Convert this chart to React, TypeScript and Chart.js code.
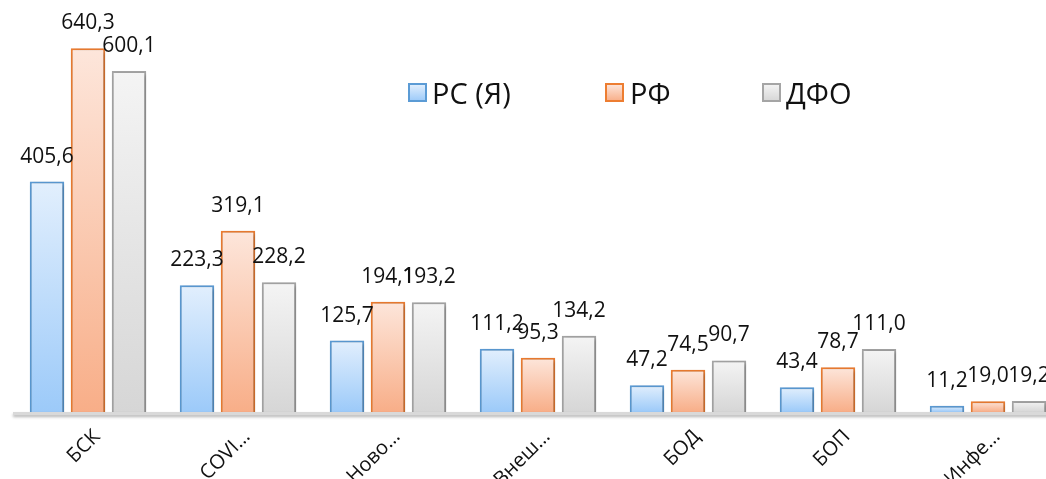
import React, { useEffect, useRef } from "react";
import { Chart, registerables } from "chart.js";

Chart.register(...registerables);

// Category labels (shortened as they appear on the axis)
const categories = ["БСК", "COVI…", "Ново…", "Внеш…", "БОД", "БОП", "Инфе…"];
const seriesNames = ["РС (Я)", "РФ", "ДФО"];

// Values per series
const rsValues = [405.6, 223.3, 125.7, 111.2, 47.2, 43.4, 11.2];
const rfValues = [640.3, 319.1, 194.1, 95.3, 74.5, 78.7, 19.0];
const dfoValues = [600.1, 228.2, 193.2, 134.2, 90.7, 111.0, 19.2];

const palette = [
  { top: "#E2EFFD", bottom: "#9CCAF9", border: "#5B9BD5" },
  { top: "#FDE6DB", bottom: "#F8AE88", border: "#ED7D31" },
  { top: "#F4F4F4", bottom: "#D6D6D6", border: "#A5A5A5" },
];

const FONT = '"Open Sans", "Noto Sans", sans-serif';

function barFill(top: string, bottom: string) {
  return (ctx: any) => {
    const chart = ctx.chart;
    const y = chart.scales && chart.scales.y;
    if (!chart.chartArea || !y || ctx.type !== "data") return bottom;
    const yTop = y.getPixelForValue(ctx.raw);
    const yBase = y.getPixelForValue(0);
    if (!isFinite(yTop) || !isFinite(yBase) || yBase - yTop < 1) return bottom;
    const g = chart.ctx.createLinearGradient(0, yTop, 0, yBase);
    g.addColorStop(0, top);
    g.addColorStop(1, bottom);
    return g;
  };
}

const fmt = (v: number) => v.toFixed(1).replace(".", ",");

// Soft shadow under bars, axis line, value labels and legend
const decorPlugin = {
  id: "decor",
  beforeDatasetsDraw(chart: any) {
    const ctx = chart.ctx;
    ctx.save();
    ctx.shadowColor = "rgba(0,0,0,0.28)";
    ctx.shadowBlur = 4;
    ctx.shadowOffsetX = 1.5;
    ctx.shadowOffsetY = 1.5;
  },
  afterDatasetsDraw(chart: any) {
    const ctx = chart.ctx;
    ctx.restore();
    const { left, right, bottom } = chart.chartArea;

    // axis line
    ctx.save();
    ctx.shadowColor = "rgba(0,0,0,0.3)";
    ctx.shadowBlur = 3;
    ctx.shadowOffsetY = 2;
    ctx.strokeStyle = "#D9D9D9";
    ctx.lineWidth = 3;
    ctx.beginPath();
    ctx.moveTo(left, bottom + 1.5);
    ctx.lineTo(right, bottom + 1.5);
    ctx.stroke();
    ctx.restore();

    // value labels
    ctx.save();
    ctx.font = `21px ${FONT}`;
    ctx.fillStyle = "#111";
    ctx.textAlign = "center";
    ctx.textBaseline = "alphabetic";
    chart.data.datasets.forEach((ds: any, di: number) => {
      const meta = chart.getDatasetMeta(di);
      meta.data.forEach((el: any, i: number) => {
        ctx.fillText(fmt(ds.data[i]), el.x, el.y - 19);
      });
    });
    ctx.restore();

    // legend
    ctx.save();
    const boxX = [409, 606, 763];
    const textX = [432, 630, 786];
    const boxY = 84;
    const size = 17;
    ctx.font = `29px ${FONT}`;
    ctx.textBaseline = "alphabetic";
    ctx.textAlign = "left";
    seriesNames.forEach((name, i) => {
      const p = palette[i];
      const g = ctx.createLinearGradient(0, boxY, 0, boxY + size);
      g.addColorStop(0, p.top);
      g.addColorStop(1, p.bottom);
      ctx.fillStyle = g;
      ctx.fillRect(boxX[i], boxY, size, size);
      ctx.strokeStyle = p.border;
      ctx.lineWidth = 2;
      ctx.strokeRect(boxX[i], boxY, size, size);
      ctx.fillStyle = "#111";
      ctx.fillText(name, textX[i], 104);
    });
    ctx.restore();
  },
};

export default function App() {
  const canvasRef = useRef<HTMLCanvasElement | null>(null);

  useEffect(() => {
    const canvas = canvasRef.current;
    if (!canvas) return;
    const seriesValues = [rsValues, rfValues, dfoValues];
    const chart = new Chart(canvas, {
      type: "bar",
      data: {
        labels: categories,
        datasets: seriesNames.map((name, i) => ({
          label: name,
          data: seriesValues[i],
          backgroundColor: barFill(palette[i].top, palette[i].bottom),
          borderColor: palette[i].border,
          borderWidth: 2,
          categoryPercentage: 0.82,
          barPercentage: 0.84,
        })),
      },
      options: {
        responsive: false,
        animation: false,
        layout: { padding: { left: 13, right: 7, top: 20, bottom: 0 } },
        plugins: {
          legend: { display: false },
          tooltip: { enabled: false },
        },
        scales: {
          x: {
            grid: { display: false, drawTicks: false },
            border: { display: false },
            ticks: {
              minRotation: 45,
              maxRotation: 45,
              autoSkip: false,
              padding: 13,
              labelOffset: 9,
              color: "#111",
              font: { family: FONT, size: 20 },
            },
            afterFit(scale: any) {
              scale.height = 67;
            },
          },
          y: {
            display: false,
            min: 0,
            max: 690,
          },
        },
      },
      plugins: [decorPlugin],
    });
    return () => chart.destroy();
  }, []);

  return (
    <div
      style={{
        position: "fixed",
        left: 0,
        top: 0,
        width: 1046,
        height: 479,
        overflow: "hidden",
        background: "#fff",
      }}
    >
      <canvas ref={canvasRef} width={1070} height={479} style={{ display: "block" }} />
    </div>
  );
}
